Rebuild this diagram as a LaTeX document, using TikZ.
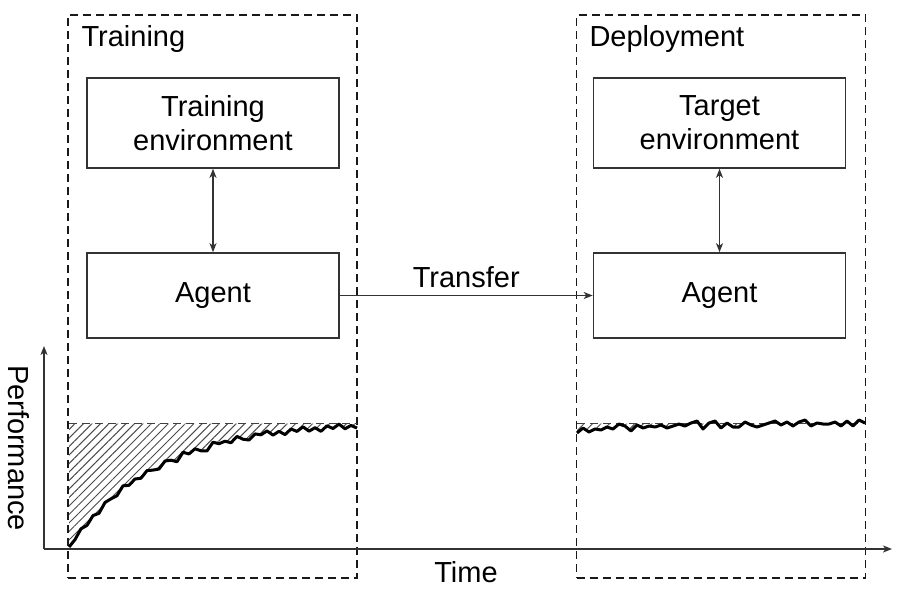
\documentclass[tikz,border=0pt]{standalone}
\usepackage{fontspec}
\setmainfont{Liberation Sans}
\usetikzlibrary{arrows.meta,patterns.meta}
\begin{document}
\begin{tikzpicture}[x=1pt,y=-1pt,
  every node/.style={font=\fontsize{29}{34}\selectfont},
  dbox/.style={draw=black!90,line width=1.4pt,dash pattern=on 8pt off 5pt,minimum width=289pt,minimum height=563pt,inner sep=0pt},
  sbox/.style={draw=black!80,line width=1.6pt,minimum width=252pt,inner sep=0pt,align=center},
  conn/.style={draw=black!80,line width=1.5pt},
  tip/.style={-{Stealth[length=9pt,width=7pt,inset=2.5pt]}},
  dtip/.style={{Stealth[length=9pt,width=7pt,inset=2.5pt]}-{Stealth[length=9pt,width=7pt,inset=2.5pt]}},
  hatch/.style={pattern={Lines[angle=45,distance=6pt,line width=1pt]},pattern color=black!70},
  perf/.style={line width=3pt,black,line join=round},
  lvl/.style={draw=black!75,line width=1.4pt,dash pattern=on 8pt off 5pt}]
\useasboundingbox (0,0) rectangle (901,592);
\fill[white] (0,0) rectangle (901,592);

% dashed phase boxes
\node[dbox] (trainbox) at (212.5,296.5) {};
\node[dbox] (deploybox) at (721,296.5) {};
\node[anchor=base west] (trainlbl) at (78,46) {Training};
\node[anchor=base west] (deploylbl) at (586,46) {Deployment};

% boxes
\node[sbox,minimum height=90pt] (tenv) at (213,123) {Training\\environment};
\node[sbox,minimum height=85pt] (agent1) at (213,295.5) {Agent};
\node[sbox,minimum height=90pt] (genv) at (719.5,123) {Target\\environment};
\node[sbox,minimum height=85pt] (agent2) at (719.5,295.5) {Agent};

\draw[conn,dtip] (tenv) -- (agent1);
\draw[conn,dtip] (genv) -- (agent2);
\draw[conn,tip] (agent1.east) -- node[above=4pt] (transferlbl) {Transfer} (agent2.west);

% axes
\coordinate (origin) at (44,549);
\coordinate (ytop) at (44,346);
\coordinate (xend) at (892,549);
\draw[conn,tip] (origin) -- (ytop);
\draw[conn,tip] (origin) -- (xend);
\node[anchor=base] (timelbl) at (466,582) {Time};
\node[rotate=-90] (perflbl) at (19,448) {Performance};

% curves
\def\traincurve{(69,547) -- (75,539.6) -- (81,528.8) -- (87,525.4) -- (93,515.6) -- (99,513.3) -- (105,502.5) -- (111,498.8) -- (117,495.7) -- (123,485.8) -- (129,485.3) -- (135,479) -- (141,478.2) -- (147,470.6) -- (153,470.1) -- (159,469) -- (165,461) -- (171,460.2) -- (177,461.7) -- (183,452.3) -- (189,453.9) -- (195,448.8) -- (201,450.8) -- (207,450.9) -- (213,442.2) -- (219,443.7) -- (225,441.2) -- (231,442.7) -- (237,436.4) -- (243,439.2) -- (249,440) -- (255,433.9) -- (261,434.8) -- (267,430.9) -- (273,435.1) -- (279,431.3) -- (285,434.6) -- (291,429) -- (297,431.4) -- (303,426.8) -- (309,431.2) -- (315,427.7) -- (321,431.3) -- (327,425.8) -- (333,428.5) -- (339,424.1) -- (345,428.8) -- (351,425.4) -- (357,428.1)}
\def\deploycurve{(577,433) -- (583,428) -- (589,432) -- (595,429) -- (601,430) -- (607,427) -- (613,429) -- (619,424) -- (625,426) -- (631,431) -- (637,425) -- (643,428) -- (649,426) -- (655,427) -- (661,425) -- (667,428) -- (673,426) -- (679,424) -- (685,426) -- (691,423) -- (697,421) -- (703,429) -- (709,423) -- (715,421) -- (721,428) -- (727,423) -- (733,427) -- (739,427) -- (745,422) -- (751,425) -- (757,427) -- (763,425) -- (769,423) -- (775,421) -- (781,425) -- (787,422) -- (793,426) -- (799,422) -- (805,420) -- (811,426) -- (817,423) -- (823,424) -- (829,424) -- (835,422) -- (841,426) -- (847,421) -- (853,426) -- (859,420) -- (865,423)}

\begin{scope}
  \clip (60,423.5) rectangle (370,560);
  \fill[hatch] (69,423.5) -- \traincurve -- (357,423.5) -- cycle;
\end{scope}
\begin{scope}
  \clip (570,423.5) rectangle (870,560);
  \fill[hatch] (577,423.5) -- \deploycurve -- (865,423.5) -- cycle;
\end{scope}
\draw[lvl] (69,423.5) -- (357,423.5);
\draw[lvl] (577,423.5) -- (865,423.5);
\draw[perf] \traincurve;
\draw[perf] \deploycurve;
\end{tikzpicture}
\end{document}
